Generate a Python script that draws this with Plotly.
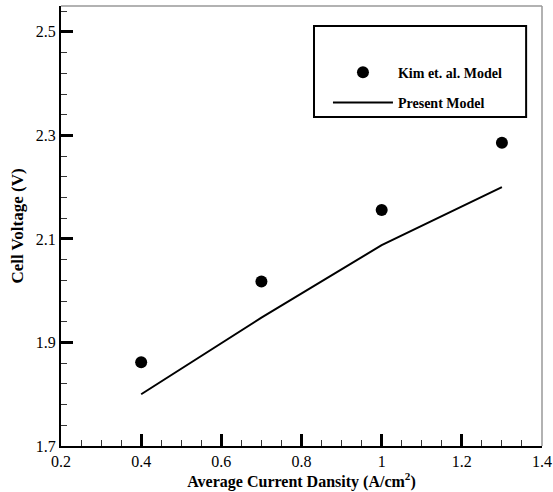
import plotly.graph_objects as go

# Data
kim_x = [0.4, 0.7, 1.0, 1.3]
kim_y = [1.862, 2.018, 2.156, 2.286]
present_x = [0.4, 0.7, 1.0, 1.3]
present_y = [1.800, 1.948, 2.088, 2.200]

x_ticks = [0.2, 0.4, 0.6, 0.8, 1.0, 1.2, 1.4]
x_labels = ["0.2", "0.4", "0.6", "0.8", "1", "1.2", "1.4"]
y_ticks = [1.7, 1.9, 2.1, 2.3, 2.5]
y_labels = ["1.7", "1.9", "2.1", "2.3", "2.5"]

serif = "Liberation Serif, Times New Roman, serif"

fig = go.Figure()
fig.add_trace(go.Scatter(
    x=kim_x, y=kim_y, mode="markers", name="Kim et. al. Model",
    legendgroup="a",
    marker=dict(color="black", size=12, symbol="circle"),
))
fig.add_trace(go.Scatter(
    x=present_x, y=present_y, mode="lines", name="Present Model",
    legendgroup="b",
    line=dict(color="black", width=2),
))

fig.update_layout(
    width=553, height=492,
    margin=dict(l=61, r=11, t=6, b=46, autoexpand=False),
    paper_bgcolor="white", plot_bgcolor="white",
    font=dict(family=serif, color="black"),
    showlegend=True,
    legend=dict(
        x=0.555, y=0.885, xanchor="left", yanchor="top",
        bgcolor="rgba(0,0,0,0)", borderwidth=0,
        font=dict(family=serif, size=14, color="black", weight="bold"),
        itemwidth=60, tracegroupgap=9, traceorder="grouped",
    ),
    shapes=[
        # thin gray top and right frame lines
        dict(type="line", xref="paper", yref="paper", x0=0, x1=1, y0=1, y1=1,
             line=dict(color="#999999", width=1.5)),
        dict(type="line", xref="paper", yref="paper", x0=1, x1=1, y0=0, y1=1,
             line=dict(color="#999999", width=1.5)),
        # legend box
        dict(type="rect", xref="paper", yref="paper", x0=0.526, x1=0.967, y0=0.748, y1=0.9545,
             line=dict(color="black", width=2), fillcolor="rgba(0,0,0,0)"),
    ],
)

fig.update_xaxes(
    range=[0.2, 1.4], tickvals=x_ticks, ticktext=x_labels,
    showgrid=False, zeroline=False,
    showline=True, linecolor="black", linewidth=2,
    ticks="inside", ticklen=12, tickwidth=2.5, tickcolor="black",
    minor=dict(dtick=0.05, ticks="inside", ticklen=6, tickwidth=1.2, tickcolor="#333333"),
    tickfont=dict(family=serif, size=16, color="black"),
    title=dict(text="Average Current Dansity (A/cm<sup>2</sup>)",
               font=dict(family=serif, size=16, color="black", weight="bold"), standoff=6),
)
fig.update_yaxes(
    range=[1.7, 2.55], tickvals=y_ticks, ticktext=y_labels,
    showgrid=False, zeroline=False,
    showline=True, linecolor="black", linewidth=2,
    ticks="inside", ticklen=12, tickwidth=2.5, tickcolor="black",
    minor=dict(dtick=0.04, tick0=1.7, ticks="inside", ticklen=6, tickwidth=1.2, tickcolor="#333333"),
    tickfont=dict(family=serif, size=16, color="black"),
    title=dict(text="Cell Voltage (V)",
               font=dict(family=serif, size=17, color="black", weight="bold"), standoff=8),
)

fig.write_html("out.html")
